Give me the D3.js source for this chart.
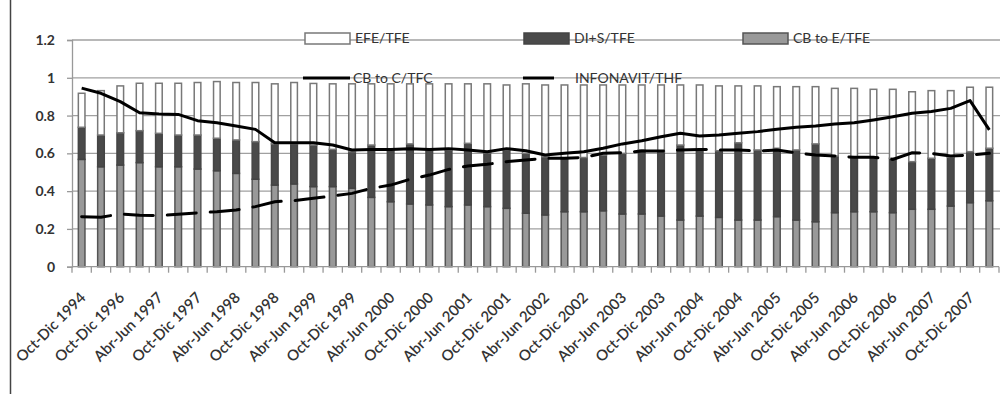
<!DOCTYPE html>
<html><head><meta charset="utf-8">
<script src="https://cdn.jsdelivr.net/npm/d3@7"></script>
<style>
body{margin:0;background:#fff}
svg{display:block}
text{font-family:Lato,"Open Sans",sans-serif;fill:#333}
</style>
</head><body>
<svg id="c" width="1006" height="394"></svg>
<script>
const categories = [
 "Oct-Dic 1994","Jul-Sep 1996","Oct-Dic 1996",
 "Ene-Mar 1997","Abr-Jun 1997","Jul-Sep 1997","Oct-Dic 1997",
 "Ene-Mar 1998","Abr-Jun 1998","Jul-Sep 1998","Oct-Dic 1998",
 "Ene-Mar 1999","Abr-Jun 1999","Jul-Sep 1999","Oct-Dic 1999",
 "Ene-Mar 2000","Abr-Jun 2000","Jul-Sep 2000","Oct-Dic 2000",
 "Ene-Mar 2001","Abr-Jun 2001","Jul-Sep 2001","Oct-Dic 2001",
 "Ene-Mar 2002","Abr-Jun 2002","Jul-Sep 2002","Oct-Dic 2002",
 "Ene-Mar 2003","Abr-Jun 2003","Jul-Sep 2003","Oct-Dic 2003",
 "Ene-Mar 2004","Abr-Jun 2004","Jul-Sep 2004","Oct-Dic 2004",
 "Ene-Mar 2005","Abr-Jun 2005","Jul-Sep 2005","Oct-Dic 2005",
 "Ene-Mar 2006","Abr-Jun 2006","Jul-Sep 2006","Oct-Dic 2006",
 "Ene-Mar 2007","Abr-Jun 2007","Jul-Sep 2007","Oct-Dic 2007",
 "Ene-Mar 2008"
];
const tickLabels = [
 "Oct-Dic 1994","Oct-Dic 1996","Abr-Jun 1997","Oct-Dic 1997","Abr-Jun 1998","Oct-Dic 1998",
 "Abr-Jun 1999","Oct-Dic 1999","Abr-Jun 2000","Oct-Dic 2000","Abr-Jun 2001","Oct-Dic 2001",
 "Abr-Jun 2002","Oct-Dic 2002","Abr-Jun 2003","Oct-Dic 2003","Abr-Jun 2004","Oct-Dic 2004",
 "Abr-Jun 2005","Oct-Dic 2005","Abr-Jun 2006","Oct-Dic 2006","Abr-Jun 2007","Oct-Dic 2007"
];
const yTicks = [0, 0.2, 0.4, 0.6, 0.8, 1, 1.2];

// CB to E/TFE (bottom, gray)
const cbE = [.568,.529,.538,.551,.529,.529,.517,.508,.494,.463,.432,.438,
 .424,.424,.415,.367,.344,.332,.327,.318,.327,.318,.309,.283,
 .274,.291,.291,.296,.279,.279,.268,.247,.268,.261,.247,.247,
 .265,.247,.238,.286,.291,.291,.286,.304,.304,.321,.339,.349];
// DI+S/TFE (middle, dark)
const diS = [.170,.168,.171,.169,.177,.168,.180,.172,.177,.199,.218,.212,
 .220,.197,.194,.277,.274,.318,.291,.300,.326,.285,.309,.317,
 .308,.283,.287,.295,.321,.339,.341,.397,.350,.353,.409,.371,
 .362,.371,.412,.300,.288,.288,.288,.252,.270,.258,.270,.278];
// EFE/TFE (top, white)
const efe = [.180,.235,.248,.251,.265,.274,.278,.300,.304,.313,.318,.325,
 .326,.347,.359,.324,.350,.318,.350,.350,.315,.365,.344,.368,
 .380,.388,.384,.371,.362,.344,.353,.318,.344,.343,.301,.339,
 .326,.335,.303,.358,.365,.360,.365,.370,.358,.353,.341,.323];
// CB to C/TFC (solid line)
const cbC = [.945,.918,.874,.815,.808,.806,.773,.762,.745,.727,.656,.656,
 .656,.644,.618,.621,.621,.625,.621,.625,.618,.609,.625,.614,
 .591,.600,.609,.627,.650,.667,.688,.706,.692,.697,.706,.715,
 .727,.738,.745,.755,.762,.777,.794,.812,.821,.838,.879,.724];
// INFONAVIT/THF (dashed line)
const infonavit = [.265,.262,.279,.272,.270,.277,.285,.291,.300,.318,.344,.350,
 .362,.374,.388,.415,.432,.463,.485,.515,.533,.542,.556,.565,
 .574,.574,.578,.600,.603,.612,.612,.618,.621,.618,.618,.612,
 .618,.603,.591,.586,.579,.579,.568,.603,.600,.586,.591,.600];

const svg = d3.select("#c");
const x = d3.scaleBand().domain(categories).range([72, 999]).paddingInner(0.58).paddingOuter(0.29);
const y = d3.scaleLinear().domain([0, 1.2]).range([266.7, 40]);

// outer frame line
svg.append("line").attr("x1",10.5).attr("x2",10.5).attr("y1",0).attr("y2",394)
  .attr("stroke","#444").attr("stroke-width",1.5);

// gridlines
svg.append("g").selectAll("line").data(yTicks.filter(d=>d>0)).join("line")
  .attr("x1",72).attr("x2",1000).attr("y1",d=>y(d)).attr("y2",d=>y(d))
  .attr("stroke","#a0a0a0").attr("stroke-width",1.3);

// y axis
const ya = svg.append("g").attr("transform","translate(72,0)")
  .call(d3.axisLeft(y).tickValues(yTicks).tickFormat(d3.format("~g")).tickSize(5).tickPadding(12));
ya.select(".domain").attr("stroke","#999").attr("stroke-width",1.3);
ya.selectAll(".tick line").attr("stroke","#999").attr("stroke-width",1.3);
ya.selectAll("text").style("font-size","14px").style("font-family","Lato, 'Open Sans', sans-serif").attr("fill","#333").attr("font-weight","bold");

// stacked bars
const table = categories.map((c,i)=>({cat:c, cb:cbE[i], di:diS[i], efe:efe[i]}));
const stack = d3.stack().keys(["cb","di","efe"])(table);
const fills = {cb:"#999999", di:"#4a4a4a", efe:"#ffffff"};
const strokes = {cb:"#555", di:"#444", efe:"#787878"};
svg.append("g").selectAll("g").data(stack).join("g")
  .attr("fill",d=>fills[d.key]).attr("stroke",d=>strokes[d.key]).attr("stroke-width",1.5)
  .selectAll("rect").data(d=>d).join("rect")
  .attr("x",d=>x(d.data.cat)+0.75).attr("width",x.bandwidth()-1.5)
  .attr("y",d=>y(d[1])).attr("height",d=>y(d[0])-y(d[1]));

// x axis
const x0 = x.range()[0], st = x.step();
const bounds = d3.range(categories.length+1).map(i=>x0+i*st);
const xa = svg.append("g");
xa.append("line").attr("x1",72).attr("x2",999).attr("y1",y(0)).attr("y2",y(0))
  .attr("stroke","#999").attr("stroke-width",1.3);
xa.selectAll("line.t").data(bounds).join("line").attr("class","t")
  .attr("x1",d=>d).attr("x2",d=>d).attr("y1",y(0)).attr("y2",y(0)+6)
  .attr("stroke","#999").attr("stroke-width",1.3);
xa.selectAll("text").data(tickLabels).join("text")
  .attr("transform",d=>`translate(${x(d)+x.bandwidth()/2+5},${y(0)+32}) rotate(-45)`)
  .attr("text-anchor","end").style("font-size","15px").attr("font-weight","600")
  .text(d=>d);

// lines
const line = d3.line().x((d,i)=>x(categories[i])+x.bandwidth()/2).y(d=>y(d));
svg.append("path").datum(cbC).attr("d",line).attr("fill","none")
  .attr("stroke","#000").attr("stroke-width",3).attr("stroke-linejoin","round");
svg.append("path").datum(infonavit).attr("d",line).attr("fill","none")
  .attr("stroke","#000").attr("stroke-width",3).attr("stroke-dasharray","29,14").attr("stroke-linecap","round");

// legend
const lg = svg.append("g");
const legRects = [{k:"efe",x:305,label:"EFE/TFE"},{k:"di",x:524,label:"DI+S/TFE"},{k:"cb",x:743,label:"CB to E/TFE"}];
legRects.forEach(l=>{
  lg.append("rect").attr("x",l.x).attr("y",33).attr("width",45).attr("height",11)
    .attr("fill",fills[l.k]).attr("stroke",strokes[l.k]).attr("stroke-width",1.5);
  lg.append("text").attr("x",l.x+50).attr("y",38.5).attr("dy","0.35em").style("font-size","14px").text(l.label);
});
lg.append("line").attr("x1",303).attr("x2",350).attr("y1",78).attr("y2",78).attr("stroke","#000").attr("stroke-width",3);
lg.append("text").attr("x",353).attr("y",78).attr("dy","0.35em").style("font-size","14px").text("CB to C/TFC");
lg.append("line").attr("x1",523).attr("x2",568).attr("y1",78).attr("y2",78).attr("stroke","#000").attr("stroke-width",3).attr("stroke-dasharray","31,14");
lg.append("text").attr("x",575).attr("y",78).attr("dy","0.35em").style("font-size","14px").text("INFONAVIT/THF");
</script>
</body></html>
